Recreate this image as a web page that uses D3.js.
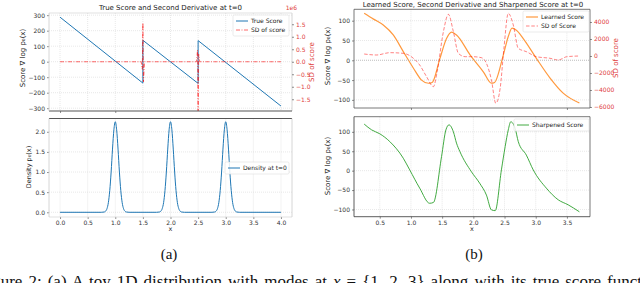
<!DOCTYPE html>
<html>
<head>
<meta charset="utf-8">
<script src="https://cdn.jsdelivr.net/npm/d3@7"></script>
<style>
body { margin: 0; background: #fff; }
text { font-family: "DejaVu Sans", sans-serif; }
</style>
</head>
<body>
<svg id="fig" width="640" height="283"></svg>
<script>
// ---- data ----
var trueScore = [[0, 287], [1.5, -138], [1.5, 138], [2.5, -140], [2.5, 136], [4, -286]];
var sdTrue = [[0, 0], [1.47, 0], [1.49, -0.3e6], [1.5, 1.55e6], [1.51, -0.8e6], [1.53, 0],
              [2.47, 0], [2.49, 0.47e6], [2.5, -2.6e6], [2.51, 0.3e6], [2.53, 0], [4, 0]];
var density = [
  [0, 0], [0.75, 0], [0.8, 0.007], [0.825, 0.028], [0.85, 0.09], [0.875, 0.24], [0.9, 0.54], [0.925, 1.0],
  [0.95, 1.57], [0.975, 2.05], [1.0, 2.25], [1.025, 2.05], [1.05, 1.57], [1.075, 1.0], [1.1, 0.54],
  [1.125, 0.24], [1.15, 0.09], [1.175, 0.028], [1.2, 0.007], [1.25, 0],
  [1.75, 0], [1.8, 0.007], [1.825, 0.028], [1.85, 0.09], [1.875, 0.24], [1.9, 0.54], [1.925, 1.0],
  [1.95, 1.57], [1.975, 2.05], [2.0, 2.25], [2.025, 2.05], [2.05, 1.57], [2.075, 1.0], [2.1, 0.54],
  [2.125, 0.24], [2.15, 0.09], [2.175, 0.028], [2.2, 0.007], [2.25, 0],
  [2.75, 0], [2.8, 0.007], [2.825, 0.028], [2.85, 0.09], [2.875, 0.24], [2.9, 0.54], [2.925, 1.0],
  [2.95, 1.57], [2.975, 2.05], [3.0, 2.25], [3.025, 2.05], [3.05, 1.57], [3.075, 1.0], [3.1, 0.54],
  [3.125, 0.24], [3.15, 0.09], [3.175, 0.028], [3.2, 0.007], [3.25, 0], [4, 0]
];
var learned = [[0.25, 119], [0.4, 104], [0.556, 89], [0.716, 64], [0.877, 22], [1.04, -20], [1.17, -50],
  [1.28, -58], [1.34, -56], [1.465, 5], [1.57, 55], [1.65, 71], [1.73, 64], [1.95, 13], [2.16, -29],
  [2.29, -58], [2.34, -56], [2.48, 13], [2.56, 60], [2.62, 81], [2.69, 76], [2.8, 55], [3.01, 5],
  [3.23, -45], [3.44, -83], [3.7, -108]];
var sdLearned = [[0.25, 235], [0.45, 118], [0.66, 390], [0.877, 314], [1.04, -275], [1.14, -1060],
  [1.25, -2430], [1.36, -3610], [1.42, -1850], [1.52, 2860], [1.6, 4900], [1.68, 2860], [1.76, 314],
  [1.87, -82], [1.99, -82], [2.13, -200], [2.21, -860], [2.29, -2820], [2.36, -5560], [2.43, -3800],
  [2.49, 900], [2.56, 5020], [2.64, 3650], [2.72, 900], [2.85, 510], [3.01, -80], [3.23, -270],
  [3.36, -470], [3.5, -80], [3.7, 0]];
var sharpened = [[0.25, 120], [0.37, 105], [0.5, 95], [0.66, 75], [0.877, 32], [0.98, 2], [1.14, -45],
  [1.3, -84], [1.36, -82], [1.49, 36], [1.56, 105], [1.61, 118], [1.68, 100], [1.73, 71], [1.785, 49],
  [1.97, -3], [2.1, -32], [2.21, -63], [2.29, -101], [2.35, -103], [2.45, 2], [2.51, 62], [2.56, 105],
  [2.6, 126], [2.67, 109], [2.72, 75], [2.85, 40], [2.96, 2], [3.17, -45], [3.36, -75], [3.52, -88],
  [3.7, -106]];

var xTicksA = [0, 0.5, 1, 1.5, 2, 2.5, 3, 3.5, 4];
var xTicksB = [0.5, 1, 1.5, 2, 2.5, 3, 3.5];
var scoreTicksA = [-300, -200, -100, 0, 100, 200, 300];
var sdTicksA = [-1.5e6, -1e6, -0.5e6, 0, 0.5e6, 1e6, 1.5e6];
var densTicks = [0, 0.5, 1, 1.5, 2];
var scoreTicksB = [-100, -50, 0, 50, 100];
var sdTicksB = [-6000, -4000, -2000, 0, 2000, 4000];

var titleA = "True Score and Second Derivative at t=0";
var titleB = "Learned Score, Second Derivative and Sharpened Score at t=0";
var scoreLabel = "Score \u2207 log p\u2080(x)";

var svg = d3.select("#fig");
svg.append("rect").attr("width", 640).attr("height", 283).attr("fill", "#fff");

var red = "#e03c3c";
var clipId = 0;

function panel(o) {
  var x = d3.scaleLinear().domain(o.xDom).range([o.l, o.r]);
  var y = d3.scaleLinear().domain(o.yDom).range([o.b, o.t]);
  var g = svg.append("g");
  var id = "clip" + (clipId++);
  svg.append("clipPath").attr("id", id).append("rect")
    .attr("x", o.l).attr("y", o.t).attr("width", o.r - o.l).attr("height", o.b - o.t);

  // grid
  g.selectAll(".gx").data(o.gridX).enter().append("line")
    .attr("x1", d => x(d)).attr("x2", d => x(d)).attr("y1", o.t).attr("y2", o.b)
    .attr("stroke", "#d8d8d8").attr("stroke-width", 0.6).attr("stroke-dasharray", "1,1");
  g.selectAll(".gy").data(o.gridY).enter().append("line")
    .attr("y1", d => y(d)).attr("y2", d => y(d)).attr("x1", o.l).attr("x2", o.r)
    .attr("stroke", "#d8d8d8").attr("stroke-width", 0.6).attr("stroke-dasharray", "1,1");

  // y axis left
  var ay = g.append("g").attr("transform", "translate(" + o.l + ",0)")
    .call(d3.axisLeft(y).tickValues(o.yTicks).tickFormat(d3.format(o.yFmt)).tickSize(2).tickPadding(2).tickSizeOuter(0));
  ay.select(".domain").remove();
  ay.selectAll("text").attr("font-size", 6).attr("fill", "#333").style("font-family", "DejaVu Sans");
  ay.selectAll("line").attr("stroke", "#444").attr("stroke-width", 0.6);

  // x axis
  if (o.xTicks) {
    var ax = g.append("g").attr("transform", "translate(0," + o.b + ")")
      .call(d3.axisBottom(x).tickValues(o.xTicks).tickFormat(o.xLabels ? d3.format(".1f") : "").tickSize(2).tickPadding(2).tickSizeOuter(0));
    ax.select(".domain").remove();
    ax.selectAll("text").attr("font-size", 6).attr("fill", "#333").style("font-family", "DejaVu Sans");
    ax.selectAll("line").attr("stroke", "#444").attr("stroke-width", 0.6);
  }

  var plot = g.append("g").attr("clip-path", "url(#" + id + ")");

  // frame
  var sp = o.spines;
  g.append("line").attr("x1", o.l).attr("x2", o.r).attr("y1", o.t).attr("y2", o.t).attr("stroke", sp[0]).attr("stroke-width", sp[4]);
  g.append("line").attr("x1", o.r).attr("x2", o.r).attr("y1", o.t).attr("y2", o.b).attr("stroke", sp[1]).attr("stroke-width", 0.8);
  g.append("line").attr("x1", o.l).attr("x2", o.r).attr("y1", o.b).attr("y2", o.b).attr("stroke", sp[2]).attr("stroke-width", sp[5]);
  g.append("line").attr("x1", o.l).attr("x2", o.l).attr("y1", o.t).attr("y2", o.b).attr("stroke", sp[3]).attr("stroke-width", 0.8);

  return {g: g, plot: plot, x: x, y: y, o: o};
}

function drawLine(p, data, yScale, color, width, dash, opacity, curve) {
  var line = d3.line().x(d => p.x(d[0])).y(d => yScale(d[1])).curve(curve || d3.curveLinear);
  p.plot.append("path").datum(data).attr("d", line)
    .attr("fill", "none").attr("stroke", color).attr("stroke-width", width)
    .attr("stroke-dasharray", dash).attr("stroke-opacity", opacity);
}

function rightAxis(p, y2, ticks, fmt, color) {
  var a = p.g.append("g").attr("transform", "translate(" + p.o.r + ",0)")
    .call(d3.axisRight(y2).tickValues(ticks).tickFormat(fmt).tickSize(2).tickPadding(2).tickSizeOuter(0));
  a.select(".domain").remove();
  a.selectAll("text").attr("font-size", 6).attr("fill", color).style("font-family", "DejaVu Sans");
  a.selectAll("line").attr("stroke", "#444").attr("stroke-width", 0.6);
}

function legend(x0, y0, w, items) {
  var h = items.length * 9 + 3;
  svg.append("rect").attr("x", x0).attr("y", y0).attr("width", w).attr("height", h)
    .attr("rx", 1.5).attr("fill", "#fff").attr("fill-opacity", 0.85).attr("stroke", "#ddd").attr("stroke-width", 0.6);
  items.forEach(function (it, i) {
    var yy = y0 + 6 + i * 9;
    svg.append("line").attr("x1", x0 + 3).attr("x2", x0 + 15).attr("y1", yy).attr("y2", yy)
      .attr("stroke", it.color).attr("stroke-width", it.width).attr("stroke-dasharray", it.dash).attr("stroke-opacity", it.opacity);
    svg.append("text").attr("x", x0 + 18).attr("y", yy + 2).attr("font-size", 6).attr("fill", "#222").text(it.label);
  });
}

function vlabel(txt, x, y, size, color) {
  svg.append("text").attr("transform", "translate(" + x + "," + y + ") rotate(-90)")
    .attr("text-anchor", "middle").attr("font-size", size).attr("fill", color).text(txt);
}

// ---------- (a) top ----------
var pA1 = panel({l: 49, r: 292, t: 13, b: 111, xDom: [-0.2, 4.2], yDom: [-318, 314],
  gridX: xTicksA, gridY: scoreTicksA, yTicks: scoreTicksA, yFmt: "d", xTicks: [0, 1], xLabels: false,
  spines: ["#ccc", "#ccc", "#555", "#ccc", 0.6, 1.2]});
var yA1r = d3.scaleLinear().domain([-1.97e6, 1.95e6]).range([111, 13]);
drawLine(pA1, trueScore, pA1.y, "#1f77b4", 1, null, 1);
drawLine(pA1, sdTrue, yA1r, "red", 0.9, "4,1.5,1,1.5", 0.65);
rightAxis(pA1, yA1r, sdTicksA, d => d3.format(".1f")(d / 1e6), red);
svg.append("text").attr("x", 297).attr("y", 10).attr("text-anchor", "end").attr("font-size", 6).attr("fill", red).text("1e6");
vlabel("SD of score", 314, 62, 7, red);
vlabel(scoreLabel, 25, 58, 7, "#222");
svg.append("text").attr("x", 170.5).attr("y", 10).attr("text-anchor", "middle").attr("font-size", 7).attr("fill", "#222").text(titleA);
legend(233, 15, 56, [
  {label: "True Score", color: "#1f77b4", width: 1, dash: null, opacity: 1},
  {label: "SD of score", color: "red", width: 0.9, dash: "4,1.5,1,1.5", opacity: 0.65}]);

// ---------- (a) bottom ----------
var pA2 = panel({l: 49, r: 292, t: 118.5, b: 217, xDom: [-0.2, 4.2], yDom: [-0.117, 2.33],
  gridX: xTicksA, gridY: densTicks, yTicks: densTicks, yFmt: ".1f", xTicks: xTicksA, xLabels: true,
  spines: ["#555", "#ccc", "#ccc", "#ccc", 1.2, 0.6]});
drawLine(pA2, density, pA2.y, "#1f77b4", 1, null, 1, d3.curveMonotoneX);
vlabel("Density p\u2080(x)", 31, 167, 6.5, "#222");
svg.append("text").attr("x", 170.5).attr("y", 231).attr("text-anchor", "middle").attr("font-size", 6.5).attr("fill", "#222").text("x");
legend(225, 162, 64, [{label: "Density at t=0", color: "#1f77b4", width: 1, dash: null, opacity: 1}]);

// ---------- (b) top ----------
var pB1 = panel({l: 354, r: 590, t: 9.3, b: 108, xDom: [0.087, 3.87], yDom: [-120.5, 128.8],
  gridX: [1, 3.5], gridY: scoreTicksB, yTicks: scoreTicksB, yFmt: "d", xTicks: [1, 3.5], xLabels: false,
  spines: ["#555", "#555", "#555", "#555", 0.8, 0.8]});
var yB1r = d3.scaleLinear().domain([-6118, 5494]).range([108, 9.3]);
pB1.g.append("line").attr("x1", 354).attr("x2", 590).attr("y1", pB1.y(0)).attr("y2", pB1.y(0))
  .attr("stroke", "#aaa").attr("stroke-width", 0.6).attr("stroke-dasharray", "1,1");
drawLine(pB1, learned, pB1.y, "#ff7f0e", 1.2, null, 0.8, d3.curveMonotoneX);
drawLine(pB1, sdLearned, yB1r, "red", 0.9, "3.5,1.8", 0.55, d3.curveMonotoneX);
rightAxis(pB1, yB1r, sdTicksB, d3.format("d"), red);
vlabel("SD of score", 618, 58, 7, red);
vlabel(scoreLabel, 330, 56, 7, "#222");
svg.append("text").attr("x", 473).attr("y", 7).attr("text-anchor", "middle").attr("font-size", 7).attr("fill", "#222").text(titleB);
legend(523, 11, 66, [
  {label: "Learned Score", color: "#ff7f0e", width: 1.2, dash: null, opacity: 0.8},
  {label: "SD of Score", color: "red", width: 0.9, dash: "3.5,1.8", opacity: 0.55}]);

// ---------- (b) bottom ----------
var pB2 = panel({l: 354, r: 590, t: 116.7, b: 216.7, xDom: [0.087, 3.87], yDom: [-118.6, 139],
  gridX: xTicksB, gridY: scoreTicksB, yTicks: scoreTicksB, yFmt: "d", xTicks: xTicksB, xLabels: true,
  spines: ["#555", "#555", "#333", "#333", 0.8, 0.8]});
drawLine(pB2, sharpened, pB2.y, "#2ca02c", 0.9, null, 1, d3.curveMonotoneX);
vlabel(scoreLabel, 330, 166, 7, "#222");
svg.append("text").attr("x", 472).attr("y", 231).attr("text-anchor", "middle").attr("font-size", 6.5).attr("fill", "#222").text("x");
legend(514, 119, 75, [{label: "Sharpened Score", color: "#2ca02c", width: 0.9, dash: null, opacity: 1}]);

// ---------- sub captions and figure caption ----------
svg.append("text").attr("x", 169).attr("y", 259).attr("text-anchor", "middle")
  .style("font-family", "Liberation Serif").attr("font-size", 15).attr("fill", "#111").text("(a)");
svg.append("text").attr("x", 474).attr("y", 259).attr("text-anchor", "middle")
  .style("font-family", "Liberation Serif").attr("font-size", 15).attr("fill", "#111").text("(b)");
// justified caption line: the page crops it on both sides and at the bottom
var cap = svg.append("text").attr("x", -22).attr("y", 287)
  .style("font-family", "Liberation Serif").attr("font-size", 17).attr("fill", "#111");
cap.append("tspan").text("Figure 2: (a) A toy 1D distribution with modes at ");
cap.append("tspan").attr("font-style", "italic").text("x");
cap.append("tspan").text(" = {1, 2, 3} along with its true score function");
var natural = cap.node().getComputedTextLength();
var spaces = 19;
cap.attr("word-spacing", Math.max(0, (684 - natural) / spaces));
</script>
</body>
</html>
